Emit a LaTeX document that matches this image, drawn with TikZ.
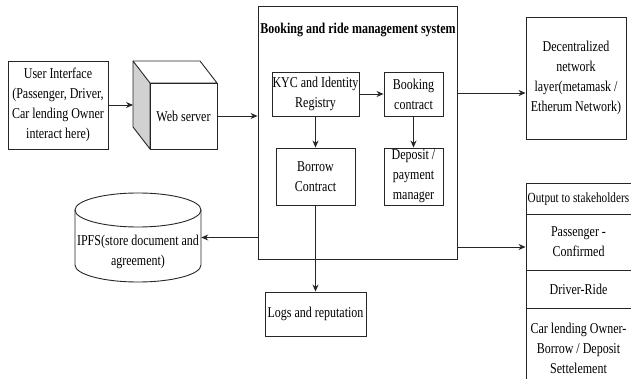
\documentclass[tikz,border=0pt]{standalone}
\usepackage{fontspec}
\setmainfont[FakeStretch=0.8]{Liberation Serif}
\usetikzlibrary{arrows.meta}
\begin{document}
\begin{tikzpicture}[x=1pt,y=-1pt,
  every node/.style={font=\fontsize{15}{20}\selectfont,align=center,inner sep=0pt},
  box/.style={draw=black!85,line width=0.9pt,minimum width=#1},
  arr/.style={draw=black!85,line width=0.9pt,-{Stealth[length=7pt,width=6pt]}},
  ln/.style={draw=black!85,line width=0.9pt}]
\useasboundingbox (0,0) rectangle (631,379);
\clip (0,0) rectangle (631,379);
% user interface
\node[box=100,minimum height=88] (ui) at (58,105) {User Interface\\(Passenger, Driver,\\Car lending Owner\\interact here)};
% web server cube
\fill[black!18] (133,61) -- (150,83) -- (150,149) -- (133,127) -- cycle;
\draw[ln,line join=round] (133,61) -- (150,83) -- (150,149) -- (133,127) -- cycle;
\draw[ln,line join=round] (133,61) -- (200,61) -- (217,83) -- (150,83);
\node[box=67,minimum height=66] (web) at (183.5,116) {Web server};
\coordinate (webL) at (133,105);
% main system
\node[box=199,minimum height=253] (main) at (357.5,132.5) {};
\node (title) at (358,30) {\bfseries Booking and ride management system};
\node[box=87,minimum height=44] (kyc) at (315.5,94) {KYC and Identity\\Registry};
\node[box=59,minimum height=44] (book) at (413.5,94) {Booking\\contract};
\node[box=79,minimum height=57] (borrow) at (315.5,176.5) {Borrow\\Contract};
\node[box=59,minimum height=57] (dep) at (413.5,176.5) {Deposit /\\payment\\manager};
\node[box=101,minimum height=44] (logs) at (315.5,314) {Logs and reputation};
% IPFS cylinder
\draw[ln,fill=white] (75,210) -- (75,265) arc[start angle=180,end angle=0,x radius=63,y radius=17] -- (201,210);
\draw[ln] (138,210) ellipse[x radius=63,y radius=17];
\node[minimum width=126,minimum height=89] (ipfs) at (138,237.5) {};
\node (ipfstext) at (138,252) {IPFS(store document and\\agreement)};
% decentralized
\node[box=100,minimum height=122] (dec) at (576,78) {Decentralized\\network\\layer(metamask /\\Etherum Network)};
% output table
\node[box=105,minimum height=31] (out0) at (578.5,198.5) {};
\node[anchor=west,font=\fontsize{14}{18}\selectfont] (out0text) at (527.5,199) {Output to stakeholders};
\node[box=105,minimum height=56] (out1) at (578.5,242) {Passenger -\\Confirmed};
\node[box=105,minimum height=38] (out2) at (578.5,289) {Driver-Ride};
\node[box=105,minimum height=82] (out3) at (578.5,349) {};
\node (out3text) at (578.5,348) {Car lending Owner-\\Borrow / Deposit\\Settelement};
% connectors
\draw[arr] (ui.east |- webL) -- (webL);
\draw[arr] (web.east) -- (main.west |- web.east);
\draw[arr] (kyc.east) -- (book.west);
\draw[arr] (kyc.south) -- (borrow.north);
\draw[arr] (book.south) -- (dep.north);
\draw[arr] (borrow.south) -- (logs.north);
\draw[arr] (main.west |- ipfs.east) -- (ipfs.east);
\draw[arr] ([yshift=-15pt]main.east |- dec.west) -- ([yshift=-15pt]dec.west);
\draw[arr] ([yshift=-5pt]main.east |- out1.west) -- ([yshift=-5pt]out1.west);
\end{tikzpicture}
\end{document}
